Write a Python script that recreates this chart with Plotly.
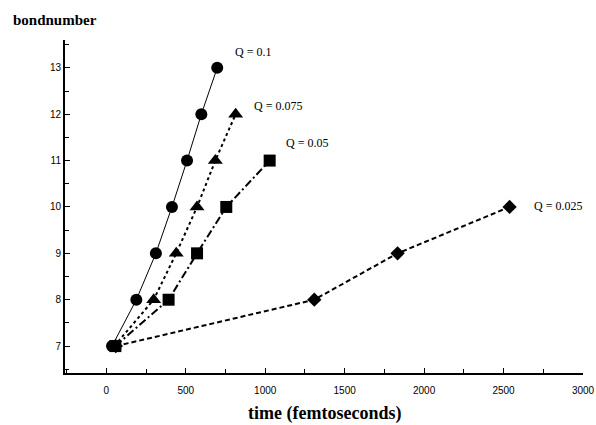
import plotly.graph_objects as go

# Data
t_q010 = [36, 189, 312, 413, 508, 598, 698]
b_q010 = [7, 8, 9, 10, 11, 12, 13]
t_q0075 = [50, 298, 440, 571, 686, 814]
b_q0075 = [7, 8, 9, 10, 11, 12]
t_q005 = [57, 392, 571, 755, 1028]
b_q005 = [7, 8, 9, 10, 11]
t_q0025 = [60, 1309, 1833, 2538]
b_q0025 = [7, 8, 9, 10]
labels = ["Q = 0.1", "Q = 0.075", "Q = 0.05", "Q = 0.025"]

series = [
    (t_q010, b_q010, "circle", "solid", 1, 12, (16, 16)),
    (t_q0075, b_q0075, "triangle-up", "dot", 2, 13, (16, 8)),
    (t_q005, b_q005, "square", "8px,3px,2px,3px", 2, 12, (14, 18)),
    (t_q0025, b_q0025, "diamond", "5px,3px", 2, 11, (22, 1)),
]

fig = go.Figure()
for (xs, ys, sym, dash, w, ms, (dx, dy)), lab in zip(series, labels):
    fig.add_trace(go.Scatter(
        x=xs, y=ys, mode="lines+markers", name=lab,
        line=dict(color="black", width=w, dash=dash),
        marker=dict(symbol=sym, size=ms, color="black"),
        showlegend=False,
    ))
    fig.add_annotation(x=xs[-1], y=ys[-1], text=lab, showarrow=False,
                       xanchor="left", yanchor="middle", xshift=dx, yshift=dy,
                       font=dict(family="Liberation Serif", size=12, color="black"))

fig.add_annotation(x=0.0, y=1.0, xref="paper", yref="paper", text="<b>bondnumber</b>",
                   showarrow=False, xanchor="left", yanchor="middle",
                   xshift=-54, yshift=20,
                   font=dict(family="Liberation Serif", size=15, color="black"))

fig.add_annotation(x=0.5, y=0.0, xref="paper", yref="paper",
                   text="<b>time (femtoseconds)</b>",
                   showarrow=False, xanchor="center", yanchor="middle",
                   xshift=0, yshift=-40, borderpad=0,
                   font=dict(family="Liberation Serif", size=18, color="black"))

fig.update_layout(
    width=596, height=425,
    margin=dict(l=65, r=13, t=40, b=52),
    paper_bgcolor="white", plot_bgcolor="white",
    font=dict(family="Liberation Sans", size=10, color="black"),
)
fig.update_xaxes(
    range=[-260, 3000], tickvals=[0, 500, 1000, 1500, 2000, 2500, 3000],
    showgrid=False, zeroline=False, showline=True, linecolor="black", linewidth=2,
    ticks="inside", ticklen=5, tickcolor="black", tickwidth=1, automargin=False,
    ticklabelstandoff=7,
    minor=dict(ticks="inside", dtick=250, tick0=0, ticklen=4, tickcolor="black"),
)
fig.update_yaxes(
    range=[6.42, 13.6], tickvals=[7, 8, 9, 10, 11, 12, 13],
    showgrid=False, zeroline=False, showline=True, linecolor="black", linewidth=2,
    ticks="inside", ticklen=5, tickcolor="black", tickwidth=1, automargin=False,
    minor=dict(ticks="inside", dtick=0.5, tick0=0, ticklen=4, tickcolor="black"),
)

fig.write_html("out.html")
